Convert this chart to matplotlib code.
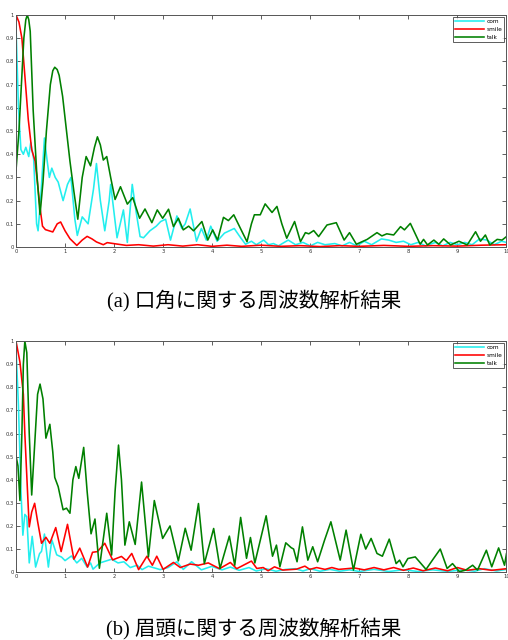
import matplotlib.pyplot as plt
from matplotlib.ticker import FormatStrFormatter

# --- mouth corner (口角) spectra ---
mouth_com_x = [0, 0.05, 0.1, 0.15, 0.2, 0.26, 0.3, 0.36, 0.42, 0.45, 0.5, 0.58, 0.63, 0.68, 0.73, 0.8, 0.86, 0.96,
               1.05, 1.12, 1.2, 1.25, 1.35, 1.47, 1.58, 1.64, 1.72, 1.81, 1.9, 1.93, 2.06, 2.19, 2.27, 2.37, 2.45,
               2.53, 2.6, 2.73, 2.86, 2.95, 3.05, 3.15, 3.28, 3.38, 3.45, 3.55, 3.68, 3.78, 3.88, 3.97, 4.1, 4.25,
               4.45, 4.58, 4.68, 4.8, 4.9, 5.05, 5.15, 5.25, 5.35, 5.55, 5.7, 5.85, 6.0, 6.15, 6.3, 6.5, 6.65, 6.8,
               6.95, 7.1, 7.25, 7.45, 7.6, 7.75, 7.9, 8.05, 8.2, 8.35, 8.55, 8.7, 8.85, 9.0, 9.15, 9.3, 9.45, 9.6,
               9.75, 9.9, 10.0]
mouth_com_y = [0.95, 0.6, 0.42, 0.40, 0.43, 0.39, 0.45, 0.38, 0.1, 0.07, 0.2, 0.47, 0.38, 0.30, 0.34, 0.30, 0.28, 0.2,
               0.27, 0.3, 0.12, 0.05, 0.13, 0.1, 0.25, 0.36, 0.2, 0.07, 0.2, 0.27, 0.04, 0.16, 0.02, 0.27, 0.15,
               0.045, 0.04, 0.07, 0.09, 0.11, 0.12, 0.03, 0.134, 0.08, 0.1, 0.164, 0.025, 0.08, 0.03, 0.09, 0.025, 0.06,
               0.08, 0.04, 0.012, 0.025, 0.01, 0.03, 0.01, 0.015, 0.005, 0.03, 0.01, 0.02, 0.005, 0.02, 0.01, 0.015,
               0.005, 0.02, 0.005, 0.025, 0.01, 0.035, 0.03, 0.02, 0.025, 0.01, 0.02, 0.005, 0.02, 0.005, 0.02, 0.01,
               0.02, 0.01, 0.035, 0.03, 0.01, 0.025, 0.02]

mouth_smile_x = [0, 0.06, 0.12, 0.18, 0.25, 0.32, 0.39, 0.44, 0.49, 0.54, 0.6, 0.75, 0.84, 0.91, 1.0, 1.1, 1.24, 1.35,
                 1.45, 1.55, 1.64, 1.78, 1.86, 2.02, 2.25, 2.5, 2.8, 3.1, 3.4, 3.7, 4.0, 4.3, 4.6, 5.0, 5.4, 5.8,
                 6.2, 6.6, 7.0, 7.5, 8.0, 8.5, 9.0, 9.5, 10.0]
mouth_smile_y = [1.0, 0.97, 0.9, 0.74, 0.55, 0.42, 0.37, 0.27, 0.17, 0.09, 0.075, 0.065, 0.1, 0.108, 0.07, 0.036,
                 0.007, 0.03, 0.046, 0.035, 0.022, 0.01, 0.019, 0.014, 0.007, 0.01, 0.004, 0.01, 0.004, 0.01, 0.003,
                 0.008, 0.003, 0.008, 0.003, 0.006, 0.002, 0.006, 0.003, 0.007, 0.003, 0.006, 0.004, 0.008, 0.01]

mouth_talk_x = [0, 0.06, 0.12, 0.16, 0.2, 0.23, 0.26, 0.29, 0.35, 0.42, 0.49, 0.55, 0.62, 0.7, 0.75, 0.79, 0.84,
                0.88, 0.95, 1.03, 1.1, 1.18, 1.26, 1.35, 1.43, 1.52, 1.6, 1.66, 1.72, 1.78, 1.85, 1.93, 2.02, 2.13,
                2.27, 2.38, 2.52, 2.63, 2.77, 2.88, 2.99, 3.11, 3.21, 3.31, 3.41, 3.52, 3.62, 3.79, 3.91, 4.01, 4.11,
                4.23, 4.33, 4.44, 4.6, 4.71, 4.8, 4.86, 4.98, 5.08, 5.22, 5.32, 5.42, 5.52, 5.68, 5.8, 5.9, 5.97,
                6.07, 6.17, 6.34, 6.53, 6.69, 6.8, 6.94, 7.16, 7.36, 7.46, 7.56, 7.7, 7.84, 7.92, 8.04, 8.24, 8.31,
                8.39, 8.52, 8.62, 8.72, 8.86, 9.03, 9.2, 9.37, 9.47, 9.57, 9.66, 9.81, 9.91, 10.0]
mouth_talk_y = [0.33, 0.5, 0.74, 0.9, 0.98, 1.0, 0.98, 0.93, 0.59, 0.33, 0.14, 0.28, 0.5, 0.7, 0.76, 0.775, 0.765,
                0.74, 0.65, 0.5, 0.37, 0.24, 0.12, 0.3, 0.39, 0.35, 0.43, 0.475, 0.44, 0.375, 0.39, 0.3, 0.205, 0.26,
                0.185, 0.213, 0.124, 0.164, 0.105, 0.16, 0.124, 0.163, 0.088, 0.124, 0.074, 0.09, 0.07, 0.11, 0.03,
                0.074, 0.03, 0.128, 0.114, 0.139, 0.07, 0.023, 0.1, 0.139, 0.139, 0.186, 0.149, 0.175, 0.1, 0.038,
                0.11, 0.023, 0.062, 0.057, 0.071, 0.045, 0.095, 0.105, 0.03, 0.062, 0.012, 0.033, 0.062, 0.048,
                0.057, 0.052, 0.088, 0.074, 0.102, 0.012, 0.033, 0.009, 0.03, 0.012, 0.035, 0.009, 0.025, 0.009,
                0.066, 0.025, 0.052, 0.009, 0.033, 0.03, 0.045]

# --- brow (眉頭) spectra ---
brow_com_x = [0, 0.05, 0.1, 0.14, 0.18, 0.22, 0.27, 0.33, 0.4, 0.48, 0.52, 0.58, 0.66, 0.73, 0.83, 0.93, 1.0, 1.13,
              1.24, 1.34, 1.45, 1.52, 1.57, 1.71, 1.95, 2.08, 2.2, 2.33, 2.47, 2.57, 2.7, 2.94, 3.1, 3.28, 3.41,
              3.58, 3.78, 3.99, 4.2, 4.37, 4.55, 4.75, 4.9, 5.1, 5.3, 5.5, 5.7, 5.85, 6.0, 6.2, 6.4, 6.6, 6.8, 7.0,
              7.3, 7.6, 7.9, 8.2, 8.5, 8.8, 9.1, 9.35, 9.55, 9.8, 10.0]
brow_com_y = [0.97, 0.72, 0.356, 0.16, 0.25, 0.24, 0.04, 0.155, 0.022, 0.08, 0.09, 0.165, 0.022, 0.14, 0.075, 0.065,
              0.05, 0.07, 0.04, 0.06, 0.022, 0.04, 0.013, 0.04, 0.056, 0.04, 0.045, 0.02, 0.03, 0.011, 0.026, 0.011,
              0.02, 0.045, 0.012, 0.045, 0.01, 0.025, 0.01, 0.022, 0.008, 0.02, 0.005, 0.015, 0.004, 0.012, 0.015,
              0.005, 0.015, 0.004, 0.012, 0.004, 0.01, 0.003, 0.012, 0.003, 0.01, 0.003, 0.01, 0.003, 0.01, 0.004,
              0.015, 0.005, 0.012]

brow_smile_x = [0, 0.08, 0.15, 0.18, 0.25, 0.27, 0.32, 0.38, 0.44, 0.52, 0.61, 0.69, 0.81, 0.92, 1.05, 1.18, 1.3,
                1.46, 1.56, 1.66, 1.81, 1.97, 2.15, 2.25, 2.36, 2.5, 2.67, 2.78, 2.87, 3.0, 3.21, 3.35, 3.55, 3.72,
                3.92, 4.15, 4.37, 4.5, 4.8, 4.91, 5.04, 5.14, 5.27, 5.44, 5.72, 5.89, 5.99, 6.13, 6.3, 6.44, 6.58,
                6.9, 7.1, 7.3, 7.5, 7.7, 7.9, 8.1, 8.3, 8.55, 8.8, 9.0, 9.2, 9.45, 9.7, 10.0]
brow_smile_y = [1.0, 0.91, 0.77, 0.6, 0.28, 0.196, 0.26, 0.298, 0.22, 0.125, 0.151, 0.125, 0.193, 0.089, 0.207,
                0.056, 0.104, 0.022, 0.086, 0.089, 0.125, 0.053, 0.068, 0.05, 0.081, 0.011, 0.069, 0.03, 0.069, 0.012,
                0.042, 0.02, 0.035, 0.03, 0.04, 0.015, 0.042, 0.015, 0.048, 0.016, 0.02, 0.006, 0.023, 0.009, 0.013,
                0.026, 0.012, 0.02, 0.012, 0.02, 0.012, 0.018, 0.01, 0.02, 0.01, 0.02, 0.008, 0.018, 0.006, 0.018,
                0.006, 0.02, 0.008, 0.015, 0.008, 0.015]

brow_talk_x = [0, 0.04, 0.08, 0.12, 0.15, 0.18, 0.22, 0.27, 0.32, 0.38, 0.44, 0.49, 0.55, 0.61, 0.69, 0.75, 0.79,
               0.86, 0.96, 1.03, 1.1, 1.16, 1.22, 1.28, 1.38, 1.45, 1.53, 1.61, 1.7, 1.85, 1.95, 2.02, 2.09, 2.15,
               2.22, 2.31, 2.43, 2.56, 2.7, 2.82, 2.99, 3.14, 3.31, 3.45, 3.57, 3.72, 3.84, 4.03, 4.16, 4.35, 4.46,
               4.58, 4.7, 4.78, 4.87, 5.1, 5.23, 5.31, 5.38, 5.5, 5.61, 5.66, 5.73, 5.84, 5.95, 6.05, 6.15, 6.29,
               6.42, 6.61, 6.73, 6.88, 7.03, 7.13, 7.24, 7.36, 7.47, 7.61, 7.75, 7.82, 7.89, 7.99, 8.14, 8.36, 8.5,
               8.65, 8.79, 8.9, 9.04, 9.17, 9.31, 9.41, 9.59, 9.7, 9.84, 9.96, 10.0]
brow_talk_y = [0.503, 0.46, 0.31, 0.6, 0.9, 1.0, 0.95, 0.6, 0.334, 0.55, 0.77, 0.814, 0.75, 0.58, 0.64, 0.52, 0.41,
               0.37, 0.27, 0.277, 0.255, 0.4, 0.457, 0.406, 0.54, 0.35, 0.166, 0.23, 0.017, 0.255, 0.074, 0.35, 0.55,
               0.4, 0.117, 0.218, 0.12, 0.39, 0.066, 0.31, 0.146, 0.2, 0.049, 0.19, 0.095, 0.297, 0.037, 0.189, 0.016,
               0.156, 0.03, 0.237, 0.06, 0.15, 0.04, 0.244, 0.069, 0.117, 0.023, 0.127, 0.106, 0.1, 0.045, 0.196,
               0.052, 0.11, 0.045, 0.138, 0.218, 0.052, 0.182, 0.009, 0.164, 0.1, 0.146, 0.081, 0.069, 0.143, 0.037,
               0.052, 0.023, 0.059, 0.066, 0.012, 0.055, 0.1, 0.016, 0.037, 0.002, 0.009, 0.03, 0.009, 0.095, 0.023,
               0.105, 0.03, 0.08]

labels = ['com', 'smile', 'talk']
colors = ['#22eeee', '#ff0000', '#008000']
captions = ['(a) 口角に関する周波数解析結果', '(b) 眉頭に関する周波数解析結果']

fig = plt.figure(figsize=(5.08, 6.4), dpi=100)
panels = [
    ([0.0315, 0.614, 0.9655, 0.3625], [(mouth_com_x, mouth_com_y), (mouth_smile_x, mouth_smile_y),
                                       (mouth_talk_x, mouth_talk_y)]),
    ([0.0315, 0.106, 0.9655, 0.361], [(brow_com_x, brow_com_y), (brow_smile_x, brow_smile_y),
                                      (brow_talk_x, brow_talk_y)]),
]

for rect, series in panels:
    ax = fig.add_axes(rect)
    for (x, y), lab, col in zip(series, labels, colors):
        ax.plot(x, y, color=col, lw=1.15, label=lab, solid_joinstyle='round')
    ax.set_xlim(0, 10)
    ax.set_ylim(0, 1)
    ax.set_xticks(range(11))
    ax.set_yticks([i / 10 for i in range(11)])
    ax.yaxis.set_major_formatter(FormatStrFormatter('%g'))
    ax.tick_params(direction='in', length=3, width=0.6, labelsize=3.8, pad=1.5,
                   top=True, right=True, colors='#444444', labelcolor='#333333')
    for s in ax.spines.values():
        s.set_color('#555555')
        s.set_linewidth(0.7)
    leg = ax.legend(loc='upper right', fontsize=4.2, frameon=True, fancybox=False,
                    handlelength=5, borderaxespad=0.35, borderpad=0.35, labelspacing=0.45,
                    handletextpad=0.4)
    leg.get_frame().set_edgecolor('#333333')
    leg.get_frame().set_linewidth(0.7)

cap_font = ['Liberation Serif', 'Noto Sans CJK JP']
fig.text(0.5, 0.53, captions[0], ha='center', va='center', fontsize=14.8, family=cap_font)
fig.text(0.5, 0.018, captions[1], ha='center', va='center', fontsize=14.8, family=cap_font)

fig.savefig('out.png', dpi=100)
